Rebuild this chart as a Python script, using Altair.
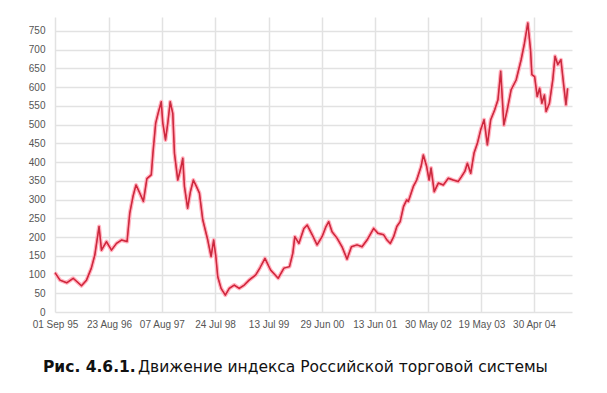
import altair as alt
import pandas as pd

# RTS index, values
dates = [
    "1995-09-01", "1995-10-04", "1995-11-17", "1995-12-30", "1996-02-23", "1996-03-27",
    "1996-04-28", "1996-05-21", "1996-06-18", "1996-07-04", "1996-08-06", "1996-09-08",
    "1996-10-11", "1996-11-13", "1996-12-20", "1997-01-07", "1997-01-28", "1997-02-17",
    "1997-03-13", "1997-04-07", "1997-04-30", "1997-05-29", "1997-06-09", "1997-06-27",
    "1997-07-13", "1997-08-03", "1997-08-13", "1997-08-31", "1997-09-15", "1997-10-01",
    "1997-10-18", "1997-10-29", "1997-11-20", "1997-12-08", "1997-12-23", "1998-01-03",
    "1998-01-24", "1998-02-11", "1998-03-03", "1998-03-23", "1998-04-12", "1998-05-04",
    "1998-06-06", "1998-06-28", "1998-07-15", "1998-07-29", "1998-08-11", "1998-09-02",
    "1998-09-30", "1998-10-26", "1998-11-28", "1998-12-31", "1999-02-02", "1999-03-06",
    "1999-04-19", "1999-05-17", "1999-06-19", "1999-07-26", "1999-09-14", "1999-10-22",
    "1999-11-28", "1999-12-20", "2000-01-02", "2000-01-29", "2000-03-02", "2000-03-24",
    "2000-04-26", "2000-05-28", "2000-06-30", "2000-07-26", "2000-08-13", "2000-09-04",
    "2000-10-07", "2000-11-09", "2000-12-12", "2001-01-10", "2001-02-16", "2001-03-21",
    "2001-04-23", "2001-06-06", "2001-07-04", "2001-08-11", "2001-09-02", "2001-09-24",
    "2001-10-16", "2001-11-06", "2001-11-28", "2001-12-20", "2002-01-10", "2002-01-21",
    "2002-02-23", "2002-03-17", "2002-04-15", "2002-04-30", "2002-05-22", "2002-06-07",
    "2002-06-20", "2002-07-11", "2002-08-07", "2002-09-09", "2002-10-12", "2002-11-13",
    "2002-12-16", "2003-01-07", "2003-01-29", "2003-02-15", "2003-03-09", "2003-03-31",
    "2003-04-22", "2003-05-14", "2003-06-05", "2003-06-27", "2003-07-19", "2003-08-14",
    "2003-09-05", "2003-09-23", "2003-10-14", "2003-11-05", "2003-12-01", "2004-01-03",
    "2004-02-05", "2004-02-27", "2004-03-20", "2004-04-07", "2004-04-16", "2004-05-04",
    "2004-05-21", "2004-06-06", "2004-06-21", "2004-07-08", "2004-07-19", "2004-08-10",
    "2004-09-01", "2004-09-16", "2004-10-04", "2004-10-25", "2004-11-12", "2004-11-27",
    "2004-12-08",
]
values = [
    105, 85, 78, 90, 70, 85,
    117, 152, 228, 165, 188, 165,
    183, 192, 188, 264, 308, 339,
    318, 295, 356, 366, 424, 504,
    530, 561, 504, 459, 504, 561,
    530, 424, 352, 380, 410, 335,
    277, 320, 352, 335, 317, 246,
    192, 148, 192, 150, 94, 63,
    45, 63, 72, 63, 72, 85,
    99, 118, 143, 112, 90, 117,
    121, 157, 201, 183, 223, 232,
    206, 179, 201, 228, 241, 214,
    197, 174, 141, 174, 179, 174,
    192, 223, 210, 206, 192, 183,
    201, 228, 241, 281, 299, 295,
    335, 352, 388, 419, 388, 352,
    384, 321, 344, 339, 357, 352,
    348, 361, 375, 397, 370, 424,
    450, 486, 513, 446, 513, 539,
    566, 642, 499, 539, 593, 619,
    673, 717, 771, 700, 633, 628,
    575, 597, 557, 579, 535, 557,
    619, 682, 660, 673, 606, 553,
    597,
]

x_tick_dates = [
    (1995, 9, 1), (1996, 8, 23), (1997, 8, 7), (1998, 7, 24), (1999, 7, 13),
    (2000, 6, 29), (2001, 6, 13), (2002, 5, 30), (2003, 5, 19), (2004, 4, 30),
]
x_start = (1995, 9, 1)
x_end = (2005, 1, 6)
y_ticks = list(range(0, 800, 50))
y_max = 787

caption_bold = "Рис. 4.6.1."
caption_text = "Движение индекса Российской торговой системы"

df = pd.DataFrame({"date": dates, "value": values})


def dt(t):
    return alt.DateTime(year=t[0], month=t[1], date=t[2], utc=True)


x_enc = alt.X(
    "date:T",
    title=None,
    scale=alt.Scale(type="utc", domain=[dt(x_start), dt(x_end)]),
    axis=alt.Axis(
        values=[dt(t) for t in x_tick_dates],
        format="%d %b %y",
        labelOverlap=False,
        labelFlush=False,
        tickSize=0,
        labelPadding=7,
        domain=False,
        grid=True,
    ),
)
y_enc = alt.Y(
    "value:Q",
    title=None,
    scale=alt.Scale(domain=[0, y_max], nice=False, zero=True),
    axis=alt.Axis(values=y_ticks, tickSize=0, labelPadding=10, domain=False, grid=True),
)

base = alt.Chart(df).encode(x=x_enc, y=y_enc)
halo = base.mark_line(color="#ffb3c0", strokeWidth=4, strokeJoin="round")
red = base.mark_line(color="#e8102a", strokeWidth=1.5, strokeJoin="round")
grey = base.mark_line(color="#7a6a70", strokeWidth=0.6, opacity=0.6)

cap1 = alt.Chart(pd.DataFrame({"t": [caption_bold]})).mark_text(
    align="left", baseline="alphabetic", fontSize=15.5, fontWeight="bold",
    font="DejaVu Sans", color="#111111"
).encode(text="t:N", x=alt.value(-12), y=alt.value(355))
cap2 = alt.Chart(pd.DataFrame({"t": [caption_text]})).mark_text(
    align="left", baseline="alphabetic", fontSize=15.5,
    font="DejaVu Sans", color="#111111"
).encode(text="t:N", x=alt.value(83), y=alt.value(355))

chart = alt.layer(halo, red, grey, cap1, cap2).properties(
    width=517,
    height=295,
    padding={"left": 55, "top": 17, "right": 35, "bottom": 81},
    autosize=alt.AutoSizeParams(type="none"),
    background="white",
).configure_view(stroke=None).configure_axis(
    gridColor="#e2e2e2",
    gridWidth=1.5,
    labelColor="#555555",
    labelFont="Liberation Sans",
    labelFontSize=10,
)

chart.save("out.html", embed_options={"renderer": "svg", "actions": False})
